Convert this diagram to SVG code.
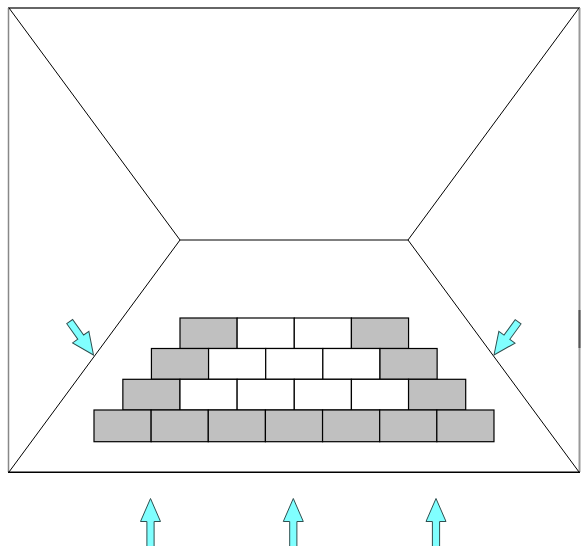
<svg xmlns="http://www.w3.org/2000/svg" width="581" height="546" viewBox="0 0 581 546">
<style>
.ln{stroke:#000;stroke-width:1;fill:none}
.g{fill:#C0C0C0;stroke:#000;stroke-width:1.2}
.w{fill:#FFFFFF;stroke:#000;stroke-width:1.2}
.ar{fill:#80FFFF;stroke:#2F4F4F;stroke-width:1}
</style>
<defs>
<path id="arrowV" d="M0,0 L10,23 L3.6,23 L3.6,49 L-3.6,49 L-3.6,23 L-10,23 Z"/>
<path id="arrowD" d="M0,0 L10,22 L3.6,22 L3.6,41 L-3.6,41 L-3.6,22 L-10,22 Z"/>
</defs>
<rect width="581" height="546" fill="#fff"/>
<g id="room">
<line x1="8" y1="8" x2="580" y2="8" stroke="#666" stroke-width="2"/>
<line x1="8.5" y1="8" x2="8.5" y2="472" stroke="#888" stroke-width="1.5"/>
<line x1="579.5" y1="8" x2="579.5" y2="472" stroke="#999" stroke-width="2"/>
<line x1="579.5" y1="310" x2="579.5" y2="348" stroke="#555" stroke-width="2"/>
<line x1="8" y1="472.3" x2="580" y2="472.3" stroke="#000" stroke-width="1.5"/>
<line class="ln" x1="180" y1="240" x2="408" y2="240"/>
<line class="ln" x1="9" y1="8" x2="180" y2="240"/>
<line class="ln" x1="579" y1="8" x2="408" y2="240"/>
<line class="ln" x1="9" y1="472" x2="180" y2="240"/>
<line class="ln" x1="579" y1="472" x2="408" y2="240"/>
</g>
<g id="bricks">
<rect class="g" x="180" y="318" width="57.14" height="30.5"/>
<rect class="w" x="237.14" y="318" width="57.14" height="30.5"/>
<rect class="w" x="294.28" y="318" width="57.14" height="30.5"/>
<rect class="g" x="351.42" y="318" width="57.14" height="30.5"/>
<rect class="g" x="151.43" y="348.5" width="57.14" height="30.8"/>
<rect class="w" x="208.57" y="348.5" width="57.14" height="30.8"/>
<rect class="w" x="265.71" y="348.5" width="57.14" height="30.8"/>
<rect class="w" x="322.85" y="348.5" width="57.14" height="30.8"/>
<rect class="g" x="379.99" y="348.5" width="57.14" height="30.8"/>
<rect class="g" x="122.86" y="379.3" width="57.14" height="30.7"/>
<rect class="w" x="180" y="379.3" width="57.14" height="30.7"/>
<rect class="w" x="237.14" y="379.3" width="57.14" height="30.7"/>
<rect class="w" x="294.28" y="379.3" width="57.14" height="30.7"/>
<rect class="w" x="351.42" y="379.3" width="57.14" height="30.7"/>
<rect class="g" x="408.56" y="379.3" width="57.14" height="30.7"/>
<rect class="g" x="94" y="410" width="57.14" height="31.7"/>
<rect class="g" x="151.14" y="410" width="57.14" height="31.7"/>
<rect class="g" x="208.28" y="410" width="57.14" height="31.7"/>
<rect class="g" x="265.42" y="410" width="57.14" height="31.7"/>
<rect class="g" x="322.56" y="410" width="57.14" height="31.7"/>
<rect class="g" x="379.7" y="410" width="57.14" height="31.7"/>
<rect class="g" x="436.84" y="410" width="57.14" height="31.7"/>
</g>
<g id="arrows">
<use href="#arrowD" class="ar" transform="translate(93.5,355) rotate(144.5)"/>
<use href="#arrowD" class="ar" transform="translate(494,355) rotate(-144)"/>
<use href="#arrowV" class="ar" transform="translate(150.5,498.5)"/>
<use href="#arrowV" class="ar" transform="translate(293.3,498.5)"/>
<use href="#arrowV" class="ar" transform="translate(436,498.5)"/>
</g>
</svg>
